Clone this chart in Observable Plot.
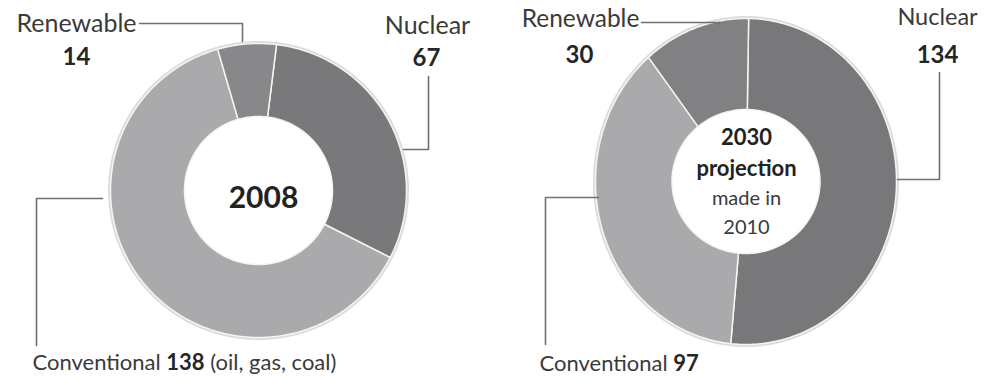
<!DOCTYPE html>
<html><head><meta charset="utf-8">
<script src="https://cdn.jsdelivr.net/npm/d3@7"></script>
<script src="https://cdn.jsdelivr.net/npm/@observablehq/plot@0.6"></script>
<style>body{margin:0;background:#fff} svg{display:block}</style>
</head><body><div id="chart"></div>
<script>
// ---- data ----
const sources = ["Nuclear", "Conventional", "Renewable"];
const values2008 = [67, 138, 14];
const values2030 = [134, 97, 30];
const centerText2008 = ["2008"];
const centerText2030 = ["2030", "projection", "made in", "2010"];
const conventionalNote2008 = "(oil, gas, coal)";

// ---- layout / style ----
const W = 988, H = 377;
const sliceColors = {
  "2008": {Nuclear: "#79797c", Conventional: "#aaaaac", Renewable: "#88888a"},
  "2030": {Nuclear: "#78787b", Conventional: "#aaaaac", Renewable: "#818184"}
};
const donuts = [
  {id: "2008", values: values2008, cx: 258, cy: 190, rx: 148, ry: 147, irx: 74, iry: 74, start: 7},
  {id: "2030", values: values2030, cx: 745.5, cy: 181, rx: 150.5, ry: 163, irx: 74, iry: 72, start: 1}
];

// build slice polygons from the data with d3.pie
const slicePts = [], rimPts = [];
for (const d of donuts) {
  const a0 = d.start * Math.PI / 180;
  const arcs = d3.pie().sort(null).startAngle(a0).endAngle(a0 + 2 * Math.PI)(d.values);
  arcs.forEach((a, i) => {
    const id = d.id + "-" + sources[i];
    const color = sliceColors[d.id][sources[i]];
    const n = Math.max(8, Math.ceil((a.endAngle - a.startAngle) * 60));
    for (let k = 0; k <= n; k++) {
      const t = a.startAngle + (a.endAngle - a.startAngle) * k / n;
      slicePts.push({id, color, x: d.cx + d.rx * Math.sin(t), y: d.cy - d.ry * Math.cos(t)});
    }
    for (let k = n; k >= 0; k--) {
      const t = a.startAngle + (a.endAngle - a.startAngle) * k / n;
      slicePts.push({id, color, x: d.cx + d.irx * Math.sin(t), y: d.cy - d.iry * Math.cos(t)});
    }
  });
  for (let k = 0; k < 240; k++) {
    const t = 2 * Math.PI * k / 240;
    rimPts.push({id: d.id, x: d.cx + (d.rx + 1) * Math.sin(t), y: d.cy - (d.ry + 1) * Math.cos(t)});
  }
}

// leader lines (annotation geometry)
const leaders = [
  {id: "r08", pts: [[139, 23], [242, 23], [242, 41]]},
  {id: "n08", pts: [[428, 76], [428, 149], [403, 149]]},
  {id: "c08", pts: [[102, 198], [36, 198], [36, 345]]},
  {id: "r30", pts: [[641, 22], [719, 22], [719, 24]]},
  {id: "n30", pts: [[939, 72], [939, 179], [897, 179]]},
  {id: "c30", pts: [[598, 197], [545, 197], [545, 344]]}
];
const leaderPts = leaders.flatMap(l => l.pts.map(([x, y]) => ({id: l.id, x, y})));

const regularLabels = [
  {x: 76, y: 23, size: 25, text: sources[2]},
  {x: 427, y: 25, size: 25, text: sources[0]},
  {x: 580, y: 19, size: 24.5, text: sources[2]},
  {x: 937, y: 17, size: 23.5, text: sources[0]}
];
const boldLabels = [
  {x: 76, y: 57, text: String(values2008[2])},
  {x: 426, y: 58, text: String(values2008[0])},
  {x: 579, y: 55, text: String(values2030[2])},
  {x: 937, y: 55, text: String(values2030[0])}
];
const mixedLabels = [
  {x: 32, y: 362, text: sources[1] + " |" + values2008[1] + "| " + conventionalNote2008},
  {x: 539, y: 363, text: sources[1] + " |" + values2030[1] + "|"}
];
const centerBold = [
  {x: 263, y: 198, size: 30, text: centerText2008[0]},
  {x: 746, y: 137, size: 22, text: centerText2030[0]},
  {x: 746, y: 168, size: 22, text: centerText2030[1]}
];
const centerRegular = [
  {x: 746, y: 198, text: centerText2030[2]},
  {x: 746, y: 227, text: centerText2030[3]}
];

const plot = Plot.plot({
  width: W, height: H, margin: 0,
  style: {fontFamily: "Lato, 'Open Sans', sans-serif", background: "#fff"},
  x: {domain: [0, W], range: [0, W], axis: null},
  y: {domain: [0, H], range: [0, H], axis: null},
  color: {type: "identity"},
  marks: [
    Plot.line(rimPts, {x: "x", y: "y", z: "id", stroke: "#dcdcdc", strokeWidth: 3, curve: "linear-closed"}),
    Plot.line(slicePts, {x: "x", y: "y", z: "id", fill: "color", stroke: "#f4f4f4", strokeWidth: 1.5, curve: "linear-closed"}),
    Plot.line(leaderPts, {x: "x", y: "y", z: "id", stroke: "#707070", strokeWidth: 1.6}),
    Plot.text(regularLabels, {x: "x", y: "y", text: "text", fontSize: "size", fill: "#3a3a3a"}),
    Plot.text(boldLabels, {x: "x", y: "y", text: "text", fontSize: 24, fontWeight: "bold", fill: "#262626"}),
    Plot.text(mixedLabels, {x: "x", y: "y", text: "text", fontSize: 22, fill: "#3a3a3a", textAnchor: "start"}),
    Plot.text(centerBold, {x: "x", y: "y", text: "text", fontSize: "size", fontWeight: "bold", fill: "#222"}),
    Plot.text(centerRegular, {x: "x", y: "y", text: "text", fontSize: 20, fill: "#3a3a3a"})
  ]
});

// split "a |b| c" labels into tspans with bold middle part
const NS = "http://www.w3.org/2000/svg";
for (const t of plot.querySelectorAll("text")) {
  const s = t.textContent;
  if (s.includes("|")) {
    const parts = s.split("|");
    t.textContent = "";
    parts.forEach((p, i) => {
      const ts = document.createElementNS(NS, "tspan");
      ts.textContent = p;
      if (i === 1) { ts.setAttribute("font-weight", "bold"); ts.setAttribute("fill", "#262626"); }
      t.appendChild(ts);
    });
  }
}
document.getElementById("chart").appendChild(plot);
</script>
</body></html>
